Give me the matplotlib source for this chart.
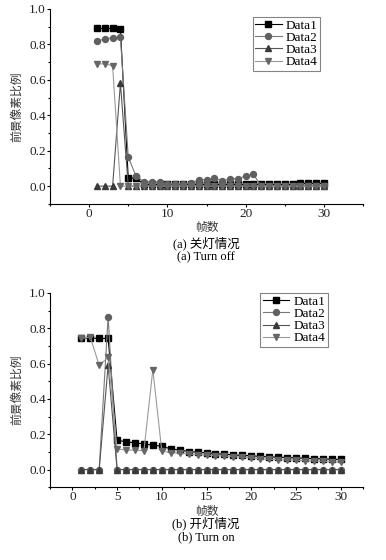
import matplotlib
matplotlib.use('Agg')
import matplotlib.pyplot as plt
from matplotlib.ticker import MultipleLocator

plt.rcParams['font.family'] = ['Liberation Serif', 'Noto Sans CJK SC']
plt.rcParams['axes.unicode_minus'] = False

frames = list(range(1, 31))

# (a) 关灯情况
off_d1 = [0.89, 0.89, 0.89, 0.888, 0.045, 0.045] + [0.01] * 20 + [0.015] * 4
off_d2 = [0.82, 0.83, 0.838, 0.84, 0.164, 0.056, 0.025, 0.025, 0.022, 0.013,
          0.013, 0.013, 0.017, 0.036, 0.037, 0.045, 0.03, 0.04, 0.043, 0.056,
          0.066] + [0.0] * 9
off_d3 = [0.0, 0.0, 0.0, 0.58] + [0.0] * 26
off_d4 = [0.69, 0.69, 0.68, 0.0] + [0.0] * 26

# (b) 开灯情况
on_d1 = [0.745, 0.745, 0.742, 0.742, 0.166, 0.157, 0.151, 0.145, 0.138, 0.132,
         0.117, 0.11, 0.102, 0.098, 0.094, 0.09, 0.087, 0.083, 0.08, 0.078,
         0.074, 0.072, 0.07, 0.068, 0.066, 0.064, 0.062, 0.06, 0.058, 0.057]
on_d2 = [0.0, 0.0, 0.0, 0.865] + [0.0] * 26
on_d3 = [0.0, 0.0, 0.0, 0.59] + [0.0] * 26
on_d4 = [0.742, 0.75, 0.59, 0.635, 0.117, 0.11, 0.11, 0.106, 0.566, 0.104,
         0.096, 0.092, 0.088, 0.085, 0.082, 0.079, 0.076, 0.073, 0.07, 0.066,
         0.06, 0.058, 0.056, 0.054, 0.052, 0.05, 0.048, 0.046, 0.044, 0.042]

labels = ['Data1', 'Data2', 'Data3', 'Data4']
markers = ['s', 'o', '^', 'v']
mcolors = ['#000000', '#606060', '#3a3a3a', '#666666']
lcolors = ['#000000', '#7a7a7a', '#555555', '#9a9a9a']

fig = plt.figure(figsize=(3.86, 5.6), dpi=100)
ax1 = fig.add_axes([0.1295, 0.636, 0.811, 0.348])
ax2 = fig.add_axes([0.1295, 0.130, 0.811, 0.347])


def draw(ax, series, xlim, xmaj, xmin, legpos):
    for ys, lab, m, mc, lc in zip(series, labels, markers, mcolors, lcolors):
        ax.plot(frames, ys, color=lc, lw=0.8, marker=m, markersize=4.3,
                markerfacecolor=mc, markeredgecolor=mc, label=lab)
    ax.set_xlim(*xlim)
    ax.set_ylim(-0.1, 1.0)
    ax.xaxis.set_major_locator(MultipleLocator(xmaj))
    ax.xaxis.set_minor_locator(MultipleLocator(xmin))
    ax.yaxis.set_major_locator(MultipleLocator(0.2))
    ax.yaxis.set_minor_locator(MultipleLocator(0.1))
    ax.spines['top'].set_visible(False)
    ax.spines['right'].set_visible(False)
    ax.tick_params(which='both', direction='out', labelsize=9.5, width=0.8,
                   pad=0.5, labelcolor='#222222')
    ax.tick_params(which='major', length=2.5)
    ax.tick_params(which='minor', length=1.5)
    ax.set_yticks([0.0, 0.2, 0.4, 0.6, 0.8, 1.0])
    ax.set_yticklabels(['0.0', '0.2', '0.4', '0.6', '0.8', '1.0'])
    ax.set_ylabel('前景像素比例', fontsize=8.5, color='#333333')
    ax.yaxis.set_label_coords(-0.085, 0.5)
    ax.set_xlabel('帧数', fontsize=8.5, color='#333333')
    ax.xaxis.set_label_coords(0.5, -0.095)
    leg = ax.legend(loc='upper left', bbox_to_anchor=legpos, fontsize=9.5,
                    frameon=True, fancybox=False, edgecolor='#666666',
                    handlelength=2.0, borderpad=0.2, labelspacing=0.0,
                    handletextpad=0.3, borderaxespad=0)
    leg.get_frame().set_linewidth(0.8)


draw(ax1, [off_d1, off_d2, off_d3, off_d4], (-5, 35), 10, 5, (0.647, 0.96))
draw(ax2, [on_d1, on_d2, on_d3, on_d4], (-2.5, 32.5), 5, 2.5, (0.672, 1.0))

fig.text(0.534, 0.566, '(a) 关灯情况', ha='center', va='center', fontsize=9)
fig.text(0.534, 0.541, '(a) Turn off', ha='center', va='center', fontsize=9)
fig.text(0.534, 0.066, '(b) 开灯情况', ha='center', va='center', fontsize=9)
fig.text(0.534, 0.041, '(b) Turn on', ha='center', va='center', fontsize=9)

fig.savefig('out.png', dpi=100)
